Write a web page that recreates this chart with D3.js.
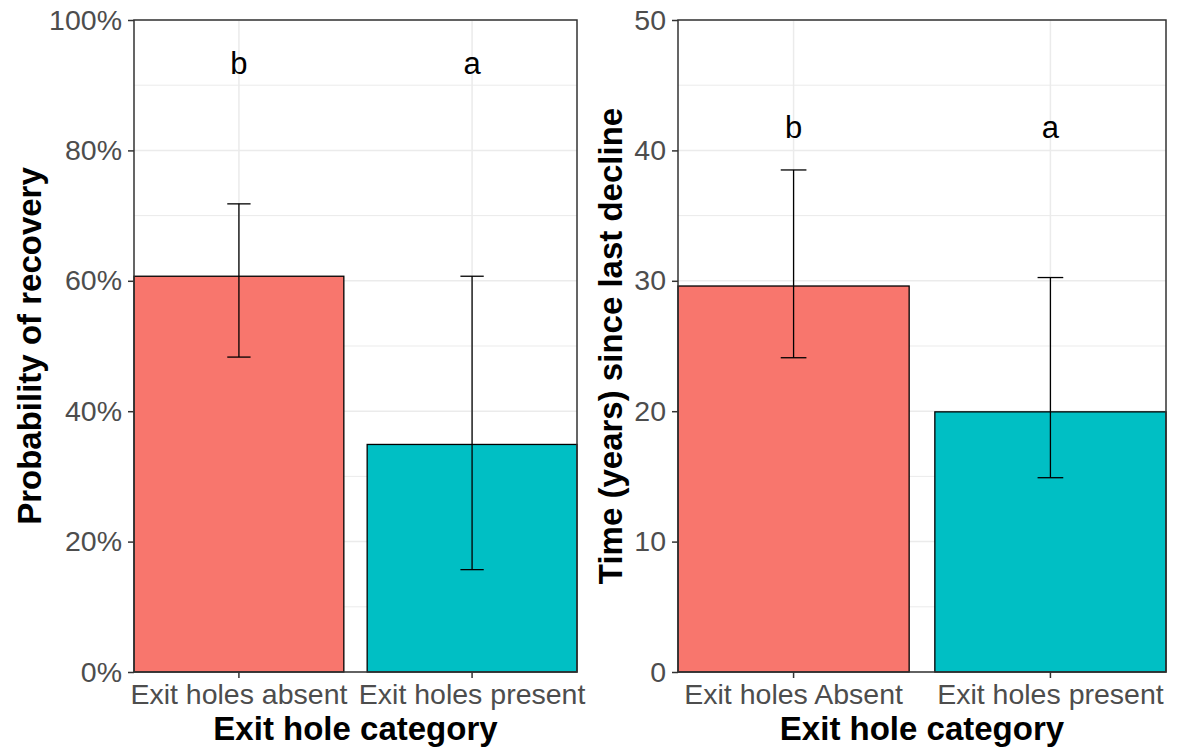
<!DOCTYPE html>
<html>
<head>
<meta charset="utf-8">
<script src="https://cdn.jsdelivr.net/npm/d3@7"></script>
<style>
	body { margin: 0; background: #fff; }
	text { font-family: "Liberation Sans", Arial, sans-serif; }
</style>
</head>
<body>
<div id="chart"></div>
<script>
// left panel: probability of recovery
const categoriesLeft = ["Exit holes absent", "Exit holes present"];
const recoveryMean = [0.607, 0.349];
const recoveryLow = [0.483, 0.157];
const recoveryHigh = [0.718, 0.607];
const recoveryLetters = ["b", "a"];
const recoveryLetterY = [0.934, 0.934];
const recoveryTicks = [0, 0.2, 0.4, 0.6, 0.8, 1];

// right panel: time since last decline
const categoriesRight = ["Exit holes Absent", "Exit holes present"];
const timeMean = [29.6, 19.95];
const timeLow = [24.1, 14.9];
const timeHigh = [38.5, 30.25];
const timeLetters = ["b", "a"];
const timeLetterY = [41.8, 41.8];
const timeTicks = [0, 10, 20, 30, 40, 50];

const barColors = ["#F8766D", "#00BFC4"];

const width = 1179, height = 748;
const svg = d3.select("#chart").append("svg")
	.attr("width", width)
	.attr("height", height);

function drawPanel(opts) {
	const x = d3.scaleBand()
		.domain(opts.categories)
		.range([opts.left, opts.right])
		.paddingInner(0.1)
		.paddingOuter(0);
	const y = d3.scaleLinear()
		.domain(opts.domain)
		.range([opts.bottom, opts.top]);
	const step = x.step();

	const g = svg.append("g");

	// minor gridlines
	const minor = d3.range(opts.domain[0], opts.domain[1], (opts.domain[1] - opts.domain[0]) / 10)
		.filter((d, i) => i % 2 === 1);
	g.selectAll(".minor").data(minor).enter().append("line")
		.attr("x1", opts.left).attr("x2", opts.right)
		.attr("y1", d => y(d)).attr("y2", d => y(d))
		.attr("stroke", "#EBEBEB").attr("stroke-width", 1);

	// major gridlines
	g.selectAll(".major").data(opts.ticks).enter().append("line")
		.attr("x1", opts.left).attr("x2", opts.right)
		.attr("y1", d => y(d)).attr("y2", d => y(d))
		.attr("stroke", "#EBEBEB").attr("stroke-width", 1.5);
	g.selectAll(".vmajor").data(opts.categories).enter().append("line")
		.attr("x1", d => x(d) + x.bandwidth() / 2).attr("x2", d => x(d) + x.bandwidth() / 2)
		.attr("y1", opts.top).attr("y2", opts.bottom)
		.attr("stroke", "#EBEBEB").attr("stroke-width", 1.5);

	// bars
	g.selectAll(".bar").data(opts.categories).enter().append("rect")
		.attr("x", d => x(d))
		.attr("width", x.bandwidth())
		.attr("y", (d, i) => y(opts.mean[i]))
		.attr("height", (d, i) => y(opts.domain[0]) - y(opts.mean[i]))
		.attr("fill", (d, i) => barColors[i])
		.attr("stroke", "#000")
		.attr("stroke-width", 1.3);

	// error bars
	const whisker = step * 0.05;
	opts.categories.forEach((c, i) => {
		const cx = x(c) + x.bandwidth() / 2;
		g.append("line")
			.attr("x1", cx).attr("x2", cx)
			.attr("y1", y(opts.low[i])).attr("y2", y(opts.high[i]))
			.attr("stroke", "#000").attr("stroke-width", 1.3);
		[opts.low[i], opts.high[i]].forEach(v => {
			g.append("line")
				.attr("x1", cx - whisker).attr("x2", cx + whisker)
				.attr("y1", y(v)).attr("y2", y(v))
				.attr("stroke", "#000").attr("stroke-width", 1.3);
		});
	});

	// letters
	g.selectAll(".letter").data(opts.categories).enter().append("text")
		.attr("x", d => x(d) + x.bandwidth() / 2)
		.attr("y", (d, i) => y(opts.letterY[i]))
		.attr("dy", "0.35em")
		.attr("text-anchor", "middle")
		.attr("font-size", 31)
		.attr("fill", "#000")
		.text((d, i) => opts.letters[i]);

	// panel border
	g.append("rect")
		.attr("x", opts.left).attr("y", opts.top)
		.attr("width", opts.right - opts.left)
		.attr("height", opts.bottom - opts.top)
		.attr("fill", "none")
		.attr("stroke", "#333333")
		.attr("stroke-width", 1.5);

	// axes
	const yAxis = g.append("g")
		.attr("transform", `translate(${opts.left},0)`)
		.call(d3.axisLeft(y).tickValues(opts.ticks).tickSize(6).tickPadding(6).tickFormat(opts.format));
	const xAxis = g.append("g")
		.attr("transform", `translate(0,${opts.bottom})`)
		.call(d3.axisBottom(x).tickSize(6).tickPadding(6));
	[yAxis, xAxis].forEach(a => {
		a.select(".domain").remove();
		a.selectAll(".tick line").attr("stroke", "#333333").attr("stroke-width", 1.5);
		a.selectAll(".tick text")
			.attr("fill", "#4D4D4D")
			.attr("font-size", 28.5)
			.attr("font-family", '"Liberation Sans", Arial, sans-serif');
	});

	// titles
	g.append("text")
		.attr("transform", `translate(${opts.yTitleX},${(opts.top + opts.bottom) / 2}) rotate(-90)`)
		.attr("text-anchor", "middle")
		.attr("font-size", 33)
		.attr("font-weight", "bold")
		.text(opts.yTitle);
	g.append("text")
		.attr("x", (opts.left + opts.right) / 2)
		.attr("y", 740)
		.attr("text-anchor", "middle")
		.attr("font-size", 33)
		.attr("font-weight", "bold")
		.text("Exit hole category");
}

drawPanel({
	categories: categoriesLeft,
	mean: recoveryMean, low: recoveryLow, high: recoveryHigh,
	letters: recoveryLetters, letterY: recoveryLetterY,
	ticks: recoveryTicks, domain: [0, 1],
	format: d3.format(".0%"),
	left: 134, right: 577, top: 20, bottom: 672,
	yTitle: "Probability of recovery", yTitleX: 41
});

drawPanel({
	categories: categoriesRight,
	mean: timeMean, low: timeLow, high: timeHigh,
	letters: timeLetters, letterY: timeLetterY,
	ticks: timeTicks, domain: [0, 50],
	format: d3.format("d"),
	left: 678, right: 1166, top: 20, bottom: 672,
	yTitle: "Time (years) since last decline", yTitleX: 622
});
</script>
</body>
</html>
